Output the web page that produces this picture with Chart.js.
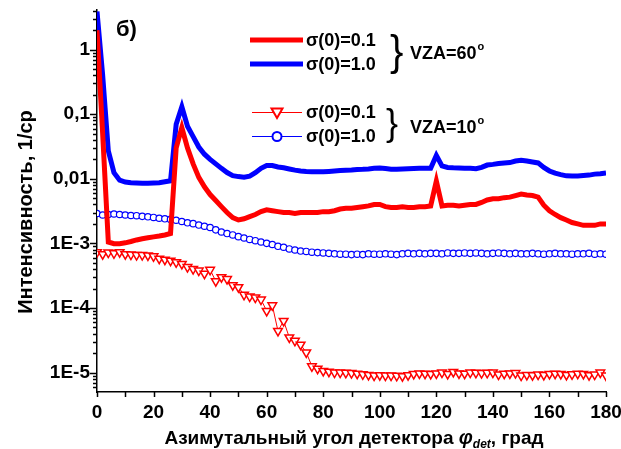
<!DOCTYPE html>
<html>
<head>
<meta charset="utf-8">
<script src="https://cdn.jsdelivr.net/npm/chart.js@4/dist/chart.umd.min.js"></script>
<style>
  html, body { margin: 0; padding: 0; background: #fff; }
</style>
</head>
<body>
<canvas id="my-chart" width="621" height="449"></canvas>
<script>
// detector azimuth, degrees
let angles = [0,2,4,6,8,10,12,14,16,18,20,22,24,26,28,30,32,34,36,38,40,42,44,46,48,50,
  52,54,56,58,60,62,64,66,68,70,72,74,76,78,80,82,84,86,88,90,92,94,96,98,100,102,104,106,
  108,110,112,114,116,118,120,122,124,126,128,130,132,134,136,138,140,142,144,146,148,150,
  152,154,156,158,160,162,164,166,168,170,172,174,176,178,180];

// VZA=60, sigma(0)=0.1 (thick red)
let vza60s01 = [2.0,0.05,1.05e-3,9.9e-4,9.9e-4,1.02e-3,1.07e-3,1.13e-3,1.18e-3,1.22e-3,1.26e-3,
  1.3e-3,1.35e-3,1.42e-3,0.03,0.062,0.03,0.017,0.0105,0.0075,0.0057,0.0046,0.0037,0.003,0.0025,
  0.0023,0.0024,0.0026,0.0028,0.0031,0.0033,0.0032,0.0031,0.003,0.003,0.0029,0.003,0.003,0.003,
  0.003,0.0031,0.0031,0.0032,0.0034,0.0035,0.0035,0.0036,0.0037,0.0038,0.004,0.004,0.0037,0.0036,
  0.0036,0.0037,0.0036,0.0036,0.0037,0.0037,0.0038,0.0092,0.0038,0.0039,0.0039,0.0038,0.0039,
  0.004,0.004,0.0043,0.0047,0.0049,0.0049,0.0051,0.0052,0.0055,0.0058,0.0056,0.0055,0.0052,
  0.0039,0.0032,0.0028,0.0025,0.0023,0.0021,0.002,0.0019,0.0019,0.0019,0.002,0.002];

// VZA=60, sigma(0)=1.0 (thick blue)
let vza60s10 = [3.9,0.4,0.027,0.0124,0.0095,0.0089,0.0087,0.0086,0.0085,0.0085,0.0086,0.0087,
  0.009,0.0093,0.07,0.13,0.065,0.045,0.031,0.024,0.02,0.017,0.0145,0.0125,0.0112,0.0108,0.0106,
  0.011,0.0124,0.0145,0.016,0.016,0.0152,0.0148,0.0142,0.0136,0.0132,0.013,0.0129,0.0128,0.0128,
  0.013,0.0132,0.0134,0.0136,0.0137,0.0139,0.014,0.0142,0.0145,0.0147,0.0144,0.0141,0.014,0.0142,
  0.0143,0.0144,0.0145,0.0146,0.0146,0.023,0.0158,0.015,0.0148,0.0147,0.0146,0.0145,0.0143,
  0.015,0.0163,0.0167,0.0172,0.0176,0.0178,0.0188,0.0194,0.0188,0.0182,0.0176,0.015,0.0132,
  0.0122,0.0116,0.0111,0.011,0.011,0.0112,0.0114,0.0118,0.012,0.0123];

// VZA=10, sigma(0)=0.1 (red triangles)
let vza10s01 = [7.3e-4,6.8e-4,7.2e-4,7.0e-4,7.3e-4,6.8e-4,6.7e-4,6.6e-4,6.6e-4,6.5e-4,6.3e-4,
  5.8e-4,5.6e-4,5.4e-4,5.1e-4,4.8e-4,4.3e-4,4.0e-4,3.8e-4,3.4e-4,3.9e-4,2.6e-4,3.0e-4,2.8e-4,
  2.25e-4,2.1e-4,1.6e-4,1.5e-4,1.45e-4,1.35e-4,9.0e-5,1.1e-4,4.4e-5,6.3e-5,3.5e-5,3.1e-5,2.7e-5,
  2.05e-5,1.25e-5,1.15e-5,1.06e-5,1.03e-5,1.0e-5,1.0e-5,9.9e-6,9.8e-6,9.6e-6,9.4e-6,9.2e-6,9.0e-6,
  9.1e-6,9.0e-6,9.0e-6,8.9e-6,8.8e-6,9.1e-6,9.5e-6,9.7e-6,9.6e-6,9.5e-6,9.7e-6,1.0e-5,9.5e-6,
  1.02e-5,9.7e-6,9.6e-6,1.0e-5,9.9e-6,9.8e-6,9.9e-6,1.0e-5,9.3e-6,9.6e-6,9.7e-6,9.8e-6,9.0e-6,
  9.2e-6,9.1e-6,9.3e-6,9.2e-6,9.5e-6,9.6e-6,9.5e-6,9.2e-6,9.4e-6,9.6e-6,9.5e-6,9.1e-6,9.3e-6,
  1.0e-5,9.0e-6];

// VZA=10, sigma(0)=1.0 (blue circles)
let vza10s10 = [2.9e-3,2.75e-3,2.8e-3,2.85e-3,2.8e-3,2.75e-3,2.7e-3,2.68e-3,2.62e-3,2.58e-3,
  2.52e-3,2.45e-3,2.4e-3,2.35e-3,2.28e-3,2.18e-3,2.08e-3,2.02e-3,1.92e-3,1.84e-3,1.76e-3,1.62e-3,
  1.5e-3,1.42e-3,1.35e-3,1.27e-3,1.21e-3,1.15e-3,1.1e-3,1.05e-3,1.0e-3,9.6e-4,9.0e-4,8.7e-4,
  8.2e-4,7.9e-4,7.6e-4,7.5e-4,7.3e-4,7.2e-4,7.1e-4,7.0e-4,6.9e-4,6.8e-4,6.8e-4,6.7e-4,6.8e-4,
  6.7e-4,6.9e-4,6.8e-4,6.8e-4,6.9e-4,6.8e-4,6.7e-4,6.9e-4,7.0e-4,6.9e-4,7.0e-4,6.9e-4,7.0e-4,
  7.0e-4,6.9e-4,7.1e-4,7.0e-4,7.0e-4,7.1e-4,7.0e-4,7.1e-4,7.0e-4,6.9e-4,7.0e-4,7.1e-4,7.0e-4,
  6.9e-4,7.0e-4,6.9e-4,6.9e-4,7.0e-4,6.9e-4,6.8e-4,6.9e-4,7.0e-4,6.9e-4,6.9e-4,6.8e-4,6.9e-4,
  6.9e-4,7.0e-4,6.8e-4,6.9e-4,6.8e-4];

let yTickValues = [1, 0.1, 0.01, 1e-3, 1e-4, 1e-5];
let yTickLabels = ['1', '0,1', '0,01', '1E-3', '1E-4', '1E-5'];
let xLabelStep = 20;

const FONT = "'Liberation Sans', Arial, sans-serif";

function pts(vals) {
  return angles.map((a, i) => ({x: a, y: vals[i]}));
}

function isDecade(v) {
  return yTickValues.some(t => Math.abs(Math.log10(t) - Math.log10(v)) < 1e-6);
}

// tick marks, axis titles and the hand-drawn legend
const decorations = {
  id: 'decorations',
  afterDraw(chart) {
    const c = chart.ctx;
    const xs = chart.scales.x, ys = chart.scales.y;
    const area = chart.chartArea;
    c.save();
    c.strokeStyle = '#000';
    c.lineWidth = 1.5;
    c.beginPath();
    xs.ticks.forEach(t => {
      const px = Math.round(xs.getPixelForValue(t.value)) + 0.5;
      c.moveTo(px, area.bottom);
      c.lineTo(px, area.bottom + 5);
    });
    ys.ticks.forEach(t => {
      const py = Math.round(ys.getPixelForValue(t.value)) + 0.5;
      c.moveTo(area.left, py);
      c.lineTo(area.left - (isDecade(t.value) ? 7 : 4), py);
    });
    c.stroke();

    c.fillStyle = '#000';
    // y title
    c.save();
    c.translate(32, 212);
    c.rotate(-Math.PI / 2);
    c.font = 'bold 20px ' + FONT;
    c.textAlign = 'center';
    c.textBaseline = 'alphabetic';
    c.fillText('Интенсивность, 1/ср', 0, 0);
    c.restore();

    // x title with phi_det
    c.textBaseline = 'alphabetic';
    c.textAlign = 'left';
    const p1 = 'Азимутальный угол детектора ';
    const p3 = ', град';
    c.font = 'bold 19px ' + FONT;
    const w1 = c.measureText(p1).width, w3 = c.measureText(p3).width;
    c.font = 'italic bold 20px ' + FONT;
    const wphi = c.measureText('φ').width;
    c.font = 'italic bold 12px ' + FONT;
    const wsub = c.measureText('det').width;
    let x0 = 354 - (w1 + wphi + wsub + w3) / 2;
    const by = 444;
    c.font = 'bold 19px ' + FONT;
    c.fillText(p1, x0, by); x0 += w1;
    c.font = 'italic bold 20px ' + FONT;
    c.fillText('φ', x0, by); x0 += wphi;
    c.font = 'italic bold 12px ' + FONT;
    c.fillText('det', x0, by + 4); x0 += wsub;
    c.font = 'bold 19px ' + FONT;
    c.fillText(p3, x0, by);

    // panel label
    c.font = 'bold 22px ' + FONT;
    c.fillText('б)', 116, 36);

    // legend, VZA=60
    c.lineWidth = 5;
    c.strokeStyle = '#ff0000';
    c.beginPath(); c.moveTo(250, 40); c.lineTo(303, 40); c.stroke();
    c.strokeStyle = '#0000ff';
    c.beginPath(); c.moveTo(250, 64); c.lineTo(303, 64); c.stroke();
    // legend, VZA=10
    c.lineWidth = 1;
    c.strokeStyle = '#ff0000';
    c.beginPath(); c.moveTo(252, 112.5); c.lineTo(302, 112.5); c.stroke();
    c.strokeStyle = '#0000ff';
    c.beginPath(); c.moveTo(252, 136.5); c.lineTo(302, 136.5); c.stroke();
    c.lineWidth = 2;
    c.fillStyle = '#fff';
    c.strokeStyle = '#ff0000';
    c.beginPath(); c.moveTo(271.5, 108.5); c.lineTo(282.5, 108.5); c.lineTo(277, 118); c.closePath();
    c.fill(); c.stroke();
    c.strokeStyle = '#0000ff';
    c.beginPath(); c.arc(277, 136.5, 4.5, 0, Math.PI * 2); c.fill(); c.stroke();

    c.fillStyle = '#000';
    c.font = 'bold 18px ' + FONT;
    c.textBaseline = 'middle';
    c.fillText('σ(0)=0.1', 306, 41);
    c.fillText('σ(0)=1.0', 306, 65);
    c.fillText('σ(0)=0.1', 306, 113);
    c.fillText('σ(0)=1.0', 306, 137);

    // braces
    c.save();
    c.font = '40px ' + FONT;
    c.translate(390, 53);
    c.scale(1, 1.05);
    c.fillText('}', 0, 0);
    c.restore();
    c.save();
    c.font = '36px ' + FONT;
    c.translate(386, 125);
    c.fillText('}', 0, 0);
    c.restore();

    function vza(txt, x, y) {
      c.font = 'bold 18px ' + FONT;
      c.textBaseline = 'middle';
      c.fillText(txt, x, y);
      const w = c.measureText(txt).width;
      c.font = 'bold 11px ' + FONT;
      c.fillText('o', x + w + 1, y - 7);
    }
    vza('VZA=60', 410, 54);
    vza('VZA=10', 410, 128);
    c.restore();
  }
};

let ctx = document.getElementById('my-chart').getContext('2d');

let chart = new Chart(ctx, {
  type: 'line',
  data: {
    datasets: [
      {
        label: 'σ(0)=0.1 VZA=60',
        data: pts(vza60s01),
        borderColor: '#ff0000',
        borderWidth: 5,
        pointRadius: 0,
        tension: 0
      },
      {
        label: 'σ(0)=1.0 VZA=60',
        data: pts(vza60s10),
        borderColor: '#0000ff',
        borderWidth: 5,
        pointRadius: 0,
        tension: 0
      },
      {
        label: 'σ(0)=0.1 VZA=10',
        data: pts(vza10s01),
        borderColor: '#ff0000',
        borderWidth: 1,
        pointStyle: 'triangle',
        rotation: 180,
        pointRadius: 5,
        pointBorderWidth: 1.5,
        pointBackgroundColor: '#fff',
        pointBorderColor: '#ff0000',
        tension: 0
      },
      {
        label: 'σ(0)=1.0 VZA=10',
        data: pts(vza10s10),
        borderColor: '#0000ff',
        borderWidth: 1,
        pointStyle: 'circle',
        pointRadius: 3.2,
        pointBorderWidth: 1.2,
        pointBackgroundColor: '#fff',
        pointBorderColor: '#0000ff',
        tension: 0
      }
    ]
  },
  options: {
    responsive: false,
    animation: false,
    layout: { padding: { top: 10, right: 15, left: 0, bottom: 0 } },
    plugins: {
      legend: { display: false },
      tooltip: { enabled: false }
    },
    scales: {
      x: {
        type: 'linear',
        min: 0,
        max: 180,
        grid: { display: false, drawTicks: false },
        border: { color: '#000', width: 1.5 },
        ticks: {
          stepSize: 10,
          autoSkip: false,
          maxRotation: 0,
          padding: 9,
          color: '#000',
          font: { family: FONT, size: 19, weight: 'bold' },
          callback: v => (v % xLabelStep === 0 ? String(v) : '')
        },
        afterFit: s => { s.height = 57; s.paddingLeft = 0; s.paddingRight = 0; }
      },
      y: {
        type: 'logarithmic',
        min: 5e-6,
        max: 4.1,
        grid: { display: false, drawTicks: false },
        border: { color: '#000', width: 1.5 },
        afterBuildTicks: s => {
          const t = [];
          for (let e = -6; e <= 0; e++) {
            for (let m = 1; m <= 9; m++) {
              const v = m * Math.pow(10, e);
              if (v >= s.min && v <= s.max) t.push({value: v});
            }
          }
          s.ticks = t;
        },
        ticks: {
          autoSkip: false,
          padding: 7,
          color: '#000',
          font: { family: FONT, size: 19, weight: 'bold' },
          callback: v => {
            const i = yTickValues.findIndex(t => Math.abs(Math.log10(t) - Math.log10(v)) < 1e-6);
            return i >= 0 ? yTickLabels[i] : '';
          }
        },
        afterFit: s => { s.width = 97; s.paddingTop = 0; s.paddingBottom = 0; }
      }
    }
  },
  plugins: [decorations]
});
</script>
</body>
</html>
